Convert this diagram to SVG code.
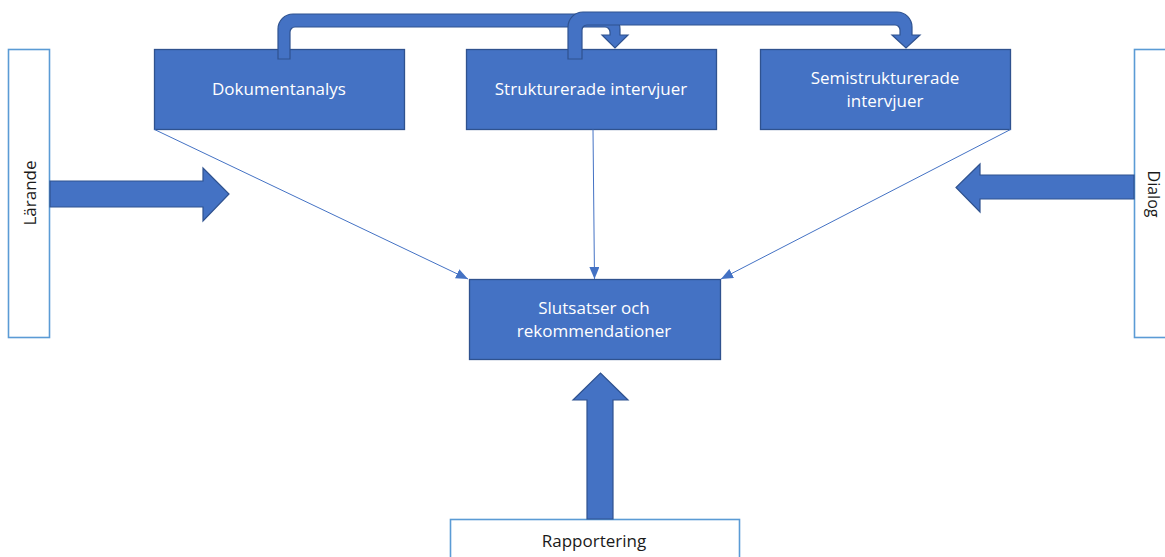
<svg xmlns="http://www.w3.org/2000/svg" width="1165" height="557" viewBox="0 0 1165 557">
<style>
.box{fill:#4472C4;stroke:#2F528F;stroke-width:1.3}
.obox{fill:#FFFFFF;stroke:#5B9BD5;stroke-width:1.6}
.blk{fill:#4472C4;stroke:#2F528F;stroke-width:1.2}
.wt{font-family:"Open Sans","Liberation Sans",sans-serif;font-size:17px;fill:#FFFFFF;text-anchor:middle}
.bt{font-family:"Open Sans","Liberation Sans",sans-serif;font-size:17px;fill:#1A1A1A;text-anchor:middle}
.con{stroke:#4472C4;stroke-width:1;fill:none}
</style>
<defs>
<marker id="ah" viewBox="0 0 12 10" refX="12" refY="5" markerWidth="12" markerHeight="10" markerUnits="userSpaceOnUse" orient="auto">
<path d="M0,0 L12,5 L0,10 Z" fill="#4472C4"/>
</marker>
</defs>
<g id="larande">
<rect class="obox" x="8.5" y="49.5" width="41" height="288"/>
<text class="bt" transform="translate(36,193) rotate(-90)">Lärande</text>
</g>
<g id="dialog">
<rect class="obox" x="1134.5" y="49.5" width="40" height="288"/>
<text class="bt" style="font-size:16px" transform="translate(1148,194) rotate(90)">Dialog</text>
</g>
<g id="rapportering">
<rect class="obox" x="450.5" y="519.5" width="289" height="50"/>
<text class="bt" x="594" y="547">Rapportering</text>
</g>
<g id="dokumentanalys">
<rect class="box" x="154.5" y="49.5" width="250" height="80"/>
<text class="wt" x="279" y="95">Dokumentanalys</text>
</g>
<g id="strukturerade">
<rect class="box" x="466.5" y="49.5" width="250" height="80"/>
<text class="wt" x="591" y="95">Strukturerade intervjuer</text>
</g>
<g id="semistrukturerade">
<rect class="box" x="760.5" y="49.5" width="250" height="80"/>
<text class="wt" x="885" y="84">Semistrukturerade</text>
<text class="wt" x="885" y="107">intervjuer</text>
</g>
<g id="slutsatser">
<rect class="box" x="469.5" y="279.5" width="251" height="80"/>
<text class="wt" x="594" y="314">Slutsatser och</text>
<text class="wt" x="594" y="337">rekommendationer</text>
</g>
<g id="connectors">
<line class="con" x1="154.5" y1="129.5" x2="468" y2="279" marker-end="url(#ah)"/>
<line class="con" x1="593" y1="129.5" x2="594.5" y2="279" marker-end="url(#ah)"/>
<line class="con" x1="1010.5" y1="129.5" x2="721" y2="279" marker-end="url(#ah)"/>
<path class="blk" d="M50,181 L203,181 L203,168 L229,194 L203,221 L203,207 L50,207 Z"/>
<path class="blk" d="M1134,175 L980,175 L980,164 L956,187.5 L980,212 L980,199 L1134,199 Z"/>
<path class="blk" d="M587,519 L587,400 L573,400 L600.5,373 L628,400 L613,400 L613,519 Z"/>
<path class="blk" d="M278,59 L278,29 A15,15 0 0 1 293,14 L605,14 A15,15 0 0 1 620,29 L620,35 L628,35 L615,48 L602,35 L610,35 L610,32 A5,5 0 0 0 605,27 L295,27 A5,5 0 0 0 290,32 L290,59 Z"/>
<path class="blk" d="M568,59 L568,27 A15,15 0 0 1 583,12 L897,12 A15,15 0 0 1 912,27 L912,35 L920,35 L906,48 L892,35 L900,35 L900,30 A5,5 0 0 0 895,25 L587,25 A5,5 0 0 0 582,30 L582,59 Z"/>
</g>
</svg>
